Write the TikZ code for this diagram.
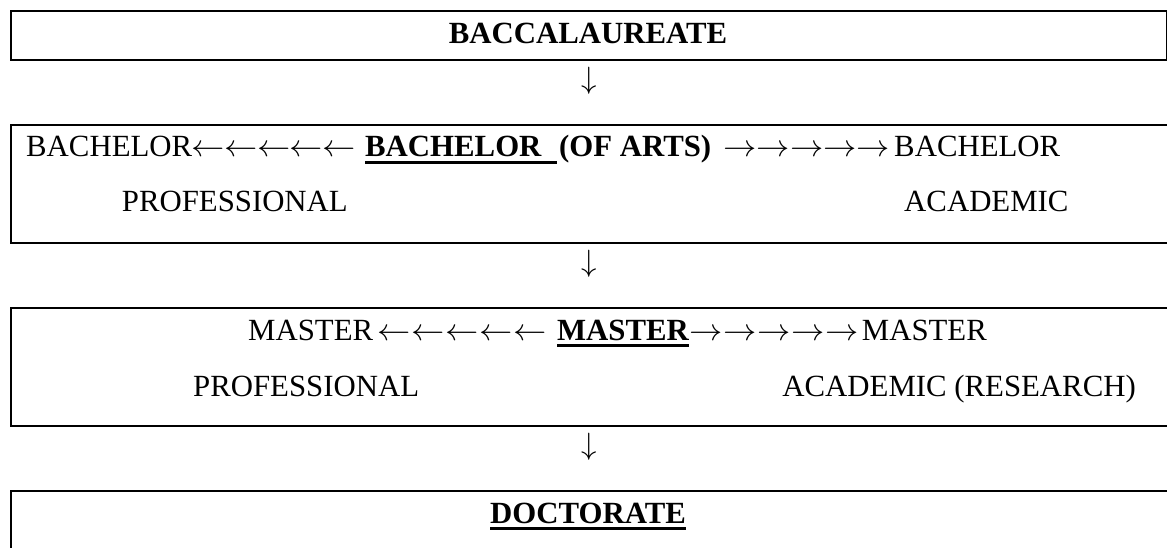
\documentclass[tikz,border=0pt]{standalone}
\usepackage{graphicx}
\usepackage{fontspec}
\setmainfont{Liberation Serif}
\newcommand\thickul[1]{\setbox0\hbox{#1}\rlap{\rule[-7pt]{\wd0}{3pt}}\box0}
\newcommand\bigsym[1]{\scalebox{3.08}{\fontsize{10}{12}\selectfont$#1$}}
\newcommand\arrfive[2]{\makebox[#1]{\scalebox{1.08}[1]{\bigsym{#2}}}\makebox[#1]{\scalebox{1.08}[1]{\bigsym{#2}}}\makebox[#1]{\scalebox{1.08}[1]{\bigsym{#2}}}\makebox[#1]{\scalebox{1.08}[1]{\bigsym{#2}}}\makebox[#1]{\scalebox{1.08}[1]{\bigsym{#2}}}}
\begin{document}
\begin{tikzpicture}[x=1pt,y=-1pt,
  txt/.style={inner sep=0pt, font=\fontsize{30.8}{37}\selectfont},
  box/.style={draw, line width=1.8pt, inner sep=0pt, anchor=north west}]
\useasboundingbox (0,0) rectangle (1167,547);
% boxes
\node[box, line width=2pt, minimum width=1156pt, minimum height=48.7pt] (bacc) at (10,10) {};
\node[box, minimum width=1162pt, minimum height=117.7pt] (bach) at (10,124) {};
\node[box, minimum width=1162pt, minimum height=118.3pt] (mast) at (10,306.7) {};
\node[box, minimum width=1162pt, minimum height=70pt] (doct) at (10,490) {};
% texts
\node[txt, anchor=base] (tbacc) at (588,43) {\textbf{BACCALAUREATE}};
\node[txt, anchor=base west] (tbach) at (26,156.7) {BACHELOR\arrfive{32.6pt}{\leftarrow}\hspace{10pt}\textbf{\thickul{\makebox[192pt][l]{BACHELOR}}\hspace{2pt}(OF ARTS)}\hspace{12pt}\arrfive{33.4pt}{\rightarrow}\hspace{4pt}BACHELOR};
\node[txt, anchor=base west] (tprof1) at (121.7,211.7) {PROFESSIONAL};
\node[txt, anchor=base east] (tacad1) at (1068.7,211.7) {ACADEMIC};
\node[txt, anchor=base west] (tmast) at (248,340) {MASTER\hspace{4pt}\arrfive{34pt}{\leftarrow}\hspace{10pt}\textbf{\thickul{MASTER}}\arrfive{34pt}{\rightarrow}\hspace{3pt}MASTER};
\node[txt, anchor=base west] (tprof2) at (193,396) {PROFESSIONAL};
\node[txt, anchor=base east] (tacad2) at (1136,396) {ACADEMIC (RESEARCH)};
\node[txt, anchor=base] (tdoct) at (588,523) {\textbf{\thickul{DOCTORATE}}};
% down arrows
\node[txt, anchor=north] (d1) at (589,67) {\bigsym{\downarrow}};
\node[txt, anchor=north] (d2) at (589,250) {\bigsym{\downarrow}};
\node[txt, anchor=north] (d3) at (589,433) {\bigsym{\downarrow}};
\end{tikzpicture}
\end{document}
